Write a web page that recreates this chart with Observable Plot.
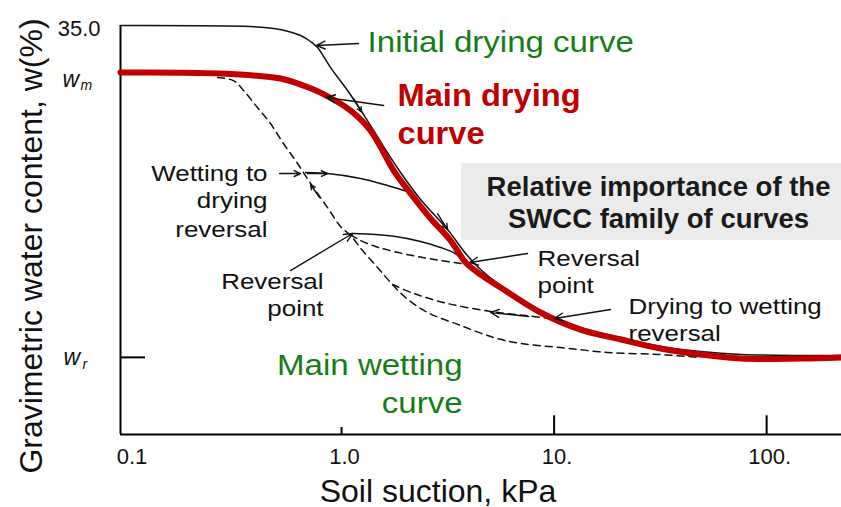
<!DOCTYPE html>
<html><head><meta charset="utf-8">
<script src="https://cdn.jsdelivr.net/npm/d3@7"></script>
<script src="https://cdn.jsdelivr.net/npm/@observablehq/plot@0.6"></script>
<style>
html,body{margin:0;padding:0;background:#fff;}
#chart{width:841px;height:507px;overflow:hidden;}
</style></head><body><div id="chart"></div>
<script>
// ---- axes / ticks ----
const xMin = 0.0912, xMax = 225;
const yMax = 35.0;
const xTicks = [0.1, 1, 10, 100];
const xTickLabels = ["0.1", "1.0", "10.", "100."];
const xTickMarks = [1, 10, 100];
const xTickLen = [0.6, 1.6, 1.6];
const yTopValue = 35.0, yTopLabel = "35.0";
const wM = 31.0, wR = 6.6;

// ---- curves (suction kPa, water content %) ----
const initialDryingS = [0.0912, 0.373, 0.479, 0.563, 0.641, 0.715, 0.771, 0.888, 1.067, 1.27, 1.577, 1.895, 2.354, 3.153, 3.835, 4.51, 5.6, 8.63, 13.3, 20.6, 31.7, 48.9, 75.5, 144.5, 225];
const initialDryingW = [35.0, 34.91, 34.74, 34.49, 34.14, 33.63, 33.12, 31.40, 29.44, 27.38, 24.64, 22.42, 20.11, 17.54, 15.49, 14.12, 12.75, 10.61, 9.16, 8.3, 7.53, 7.10, 6.85, 6.76, 6.76];

const mainDryingS = [0.0912, 0.27, 0.516, 0.662, 0.796, 1.103, 1.369, 1.758, 2.046, 2.624, 3.258, 3.835, 4.51, 5.6, 8.63, 13.3, 20.6, 31.7, 48.9, 75.5, 144.5, 225];
const mainDryingW = [30.98, 30.89, 30.46, 29.86, 29.26, 27.72, 26.01, 22.59, 20.96, 18.48, 16.6, 14.72, 13.69, 12.58, 10.44, 8.98, 8.13, 7.36, 6.85, 6.5, 6.5, 6.59];

const mainWettingS = [0.261, 0.310, 0.346, 0.402, 0.463, 0.533, 0.621, 0.715, 0.859, 0.989, 1.103, 1.256, 1.477, 1.70, 2.0, 2.54, 3.63, 5.19, 6.95, 10.74, 17.9, 30.7, 48.9];
const mainWettingW = [30.55, 30.29, 29.44, 27.98, 26.61, 24.90, 23.19, 21.48, 19.42, 17.80, 17.03, 15.74, 14.29, 13.01, 11.72, 10.44, 9.33, 8.3, 7.79, 7.44, 7.02, 6.85, 6.59];

const wetToDryS = [0.677, 0.859, 1.228, 1.646, 2.046];
const wetToDryW = [22.42, 22.33, 21.91, 21.31, 20.79];

const loopDryS = [1.127, 1.445, 1.795, 2.354, 2.923, 3.365, 3.75];
const loopDryW = [17.2, 17.11, 16.94, 16.52, 16.0, 15.57, 14.97];

const loopWetS = [1.103, 1.228, 1.445, 1.758, 2.279, 2.923, 3.917];
const loopWetW = [17.11, 16.6, 16.09, 15.66, 15.23, 14.89, 14.55];

const dryToWetS = [1.738, 2.183, 3.153, 5.025, 7.34, 9.63];
const dryToWetW = [12.84, 12.07, 11.21, 10.53, 10.18, 9.93];

// ---- annotation arrows (from -> to) ----
const arrowS1 = [1.202, 1.577, 0.511, 0.692, 0.788, 0.575, 7.5, 18.45, 7.59, 1.139, 2.83];
const arrowW1 = [33.46, 28.15, 22.33, 22.33, 20.28, 14.03, 15.49, 10.7, 10.1, 28.75, 18.9];
const arrowS2 = [0.763, 0.850, 0.641, 0.859, 0.715, 1.127, 4.004, 10.05, 5.025, 1.242, 3.153];
const arrowW2 = [33.29, 28.84, 22.33, 22.33, 21.39, 17.2, 14.72, 9.93, 10.44, 27.6, 17.54];

// ---- text labels ----
const noteText = ["Wetting to", "drying", "reversal", "Reversal", "point", "Reversal", "point", "Drying to wetting", "reversal"];
const noteS = [0.4485, 0.4485, 0.4485, 0.823, 0.823, 8.36, 8.36, 22.4, 22.4];
const noteW = [21.73, 19.34, 16.86, 12.49, 10.1, 14.46, 12.07, 10.35, 8.04];
const noteAnchor = ["end", "end", "end", "end", "end", "start", "start", "start", "start"];

const greenText = ["Initial drying curve", "Main wetting", "curve"];
const greenS = [1.326, 3.71, 3.71];
const greenW = [32.69, 5.13, 1.88];
const greenAnchor = ["start", "end", "end"];

const redText = ["Main drying", "curve"];
const redS = [1.834, 1.834];
const redW = [28.07, 24.90];

const boxText = ["Relative importance of the", "SWCC family of curves"];
const boxS = [31.0, 31.0];
const boxW = [20.45, 17.63];
const boxX1 = 3.67, boxX2 = xMax, boxY1 = 16.6, boxY2 = 23.19;

const xTitle = "Soil suction, kPa";
const yTitle = "Gravimetric water content, w(%)";

// ---- tables ----
const toPts = (S, W) => S.map((s, i) => ({s, w: W[i]}));
const initialDrying = toPts(initialDryingS, initialDryingW);
const mainDrying = toPts(mainDryingS, mainDryingW);
const mainWetting = toPts(mainWettingS, mainWettingW);
const wetToDry = toPts(wetToDryS, wetToDryW);
const loopDry = toPts(loopDryS, loopDryW);
const loopWet = toPts(loopWetS, loopWetW);
const dryToWet = toPts(dryToWetS, dryToWetW);
const arrows = arrowS1.map((s, i) => ({x1: s, y1: arrowW1[i], x2: arrowS2[i], y2: arrowW2[i]}));
const notes = noteText.map((t, i) => ({t, s: noteS[i], w: noteW[i], a: noteAnchor[i]}));
const greens = greenText.map((t, i) => ({t, s: greenS[i], w: greenW[i], a: greenAnchor[i]}));
const reds = redText.map((t, i) => ({t, s: redS[i], w: redW[i]}));
const boxes = boxText.map((t, i) => ({t, s: boxS[i], w: boxW[i]}));
const tickTable = xTicks.map((v, i) => ({v, label: xTickLabels[i]}));
const tickMarkTable = xTickMarks.map((v, i) => ({v, len: xTickLen[i]}));

const FONT = "'Liberation Sans', Arial, sans-serif";
const GREEN = "#157d15", RED = "#c00000", INK = "#111";
const dash = {stroke: INK, strokeWidth: 1.5, strokeDasharray: "7,5", curve: "catmull-rom"};
const solid = {stroke: INK, strokeWidth: 1.5, curve: "catmull-rom"};

const chart = Plot.plot({
  width: 841, height: 507,
  marginLeft: 120, marginRight: 0, marginTop: 25, marginBottom: 73,
  style: {fontFamily: FONT, background: "#fff", overflow: "visible"},
  x: {type: "log", domain: [xMin, xMax], axis: null},
  y: {domain: [0, yMax], axis: null},
  marks: [
    Plot.rect([{x1: boxX1, x2: boxX2, y1: boxY1, y2: boxY2}], {x1: "x1", x2: "x2", y1: "y1", y2: "y2", fill: "#ebebeb"}),
    // frame
    Plot.ruleX([xMin], {y1: 0, y2: yMax, stroke: "#000", strokeWidth: 2}),
    Plot.ruleY([0], {stroke: "#000", strokeWidth: 2}),
    Plot.ruleX(tickMarkTable, {x: "v", y1: 0, y2: "len", stroke: "#000", strokeWidth: 2}),
    Plot.ruleY([wR], {x1: xMin, x2: 0.1196, stroke: "#000", strokeWidth: 2}),
    // curves
    Plot.line(mainWetting, {x: "s", y: "w", ...dash}),
    Plot.line(loopWet, {x: "s", y: "w", ...dash}),
    Plot.line(dryToWet, {x: "s", y: "w", ...dash}),
    Plot.line(wetToDry, {x: "s", y: "w", ...solid}),
    Plot.line(loopDry, {x: "s", y: "w", ...solid}),
    Plot.line(initialDrying, {x: "s", y: "w", ...solid}),
    Plot.line(mainDrying, {x: "s", y: "w", stroke: RED, strokeWidth: 6, curve: "catmull-rom"}),
    // arrows
    Plot.arrow(arrows, {x1: "x1", y1: "y1", x2: "x2", y2: "y2", stroke: INK, strokeWidth: 1.4, headLength: 10, headAngle: 50}),
    // texts
    Plot.text(notes, {filter: d => d.a === "end", x: "s", y: "w", text: "t", textAnchor: "end", lineAnchor: "bottom", fontSize: 22, fill: INK, ariaDescription: "note"}),
    Plot.text(notes, {filter: d => d.a === "start", x: "s", y: "w", text: "t", textAnchor: "start", lineAnchor: "bottom", fontSize: 22, fill: INK, ariaDescription: "note"}),
    Plot.text(greens, {filter: d => d.a === "start", x: "s", y: "w", text: "t", textAnchor: "start", lineAnchor: "bottom", fontSize: 29, fill: GREEN, ariaDescription: "green"}),
    Plot.text(greens, {filter: d => d.a === "end", x: "s", y: "w", text: "t", textAnchor: "end", lineAnchor: "bottom", fontSize: 29, fill: GREEN, ariaDescription: "green"}),
    Plot.text(reds, {x: "s", y: "w", text: "t", textAnchor: "start", lineAnchor: "bottom", fontSize: 32, fontWeight: "bold", fill: RED, ariaDescription: "red"}),
    Plot.text(boxes, {x: "s", y: "w", text: "t", textAnchor: "middle", lineAnchor: "bottom", fontSize: 27.5, fontWeight: "bold", fill: "#1a1a1a"}),
    // axis labels
    Plot.text(tickTable, {x: "v", text: "label", frameAnchor: "bottom", textAnchor: "middle", dy: 29, dx: 3, lineAnchor: "bottom", fontSize: 22, fill: INK}),
    Plot.text([yTopValue], {y: d => d, text: () => yTopLabel, frameAnchor: "left", dx: -20, dy: 10, textAnchor: "end", lineAnchor: "bottom", fontSize: 22, fill: INK}),
    Plot.text([wM], {y: d => d, text: () => "w", frameAnchor: "left", dx: -58, dy: 15, textAnchor: "start", lineAnchor: "bottom", fontSize: 23, fontStyle: "italic", fill: INK}),
    Plot.text([wM], {y: d => d, text: () => "m", frameAnchor: "left", dx: -40, dy: 18, textAnchor: "start", lineAnchor: "bottom", fontSize: 14, fontStyle: "italic", fill: INK}),
    Plot.text([wR], {y: d => d, text: () => "w", frameAnchor: "left", dx: -57, dy: 8, textAnchor: "start", lineAnchor: "bottom", fontSize: 23, fontStyle: "italic", fill: INK}),
    Plot.text([wR], {y: d => d, text: () => "r", frameAnchor: "left", dx: -38, dy: 12, textAnchor: "start", lineAnchor: "bottom", fontSize: 14, fontStyle: "italic", fill: INK}),
    Plot.text([xTitle], {text: d => d, frameAnchor: "bottom", textAnchor: "middle", dx: -43, dy: 67, lineAnchor: "bottom", fontSize: 32, fill: INK}),
    Plot.text([yTitle], {text: d => d, frameAnchor: "left", textAnchor: "middle", rotate: -90, dx: -79, dy: 16, lineAnchor: "bottom", fontSize: 32, fill: INK})
  ]
});

// horizontal letter widening to match the reference's wide lettering
const stretch = {note: 1.18, green: 1.14, red: 1.02};
d3.select(chart).selectAll("g[aria-description]").each(function () {
  const f = stretch[this.getAttribute("aria-description")];
  if (!f) return;
  d3.select(this).selectAll("text").attr("transform", function () {
    return (this.getAttribute("transform") || "") + ` scale(${f},1)`;
  });
});

document.getElementById("chart").appendChild(chart);
</script>
</body></html>
